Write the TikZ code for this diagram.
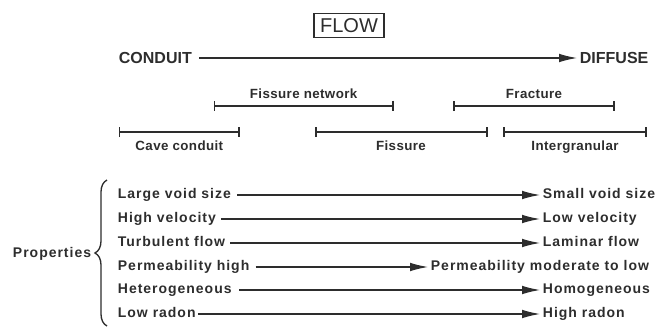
\documentclass[tikz,border=0pt]{standalone}
\usepackage{fontspec}
\setmainfont{Liberation Sans}
\usetikzlibrary{arrows.meta,decorations.pathreplacing}
\definecolor{ink}{RGB}{45,45,45}
\begin{document}
\begin{tikzpicture}[x=0.75pt,y=-0.75pt,line width=1.4pt,draw=ink,
  every node/.style={inner sep=0pt,text=ink},
  prop/.style={font=\fontsize{10.5}{12}\selectfont\bfseries\addfontfeature{LetterSpace=7}},
  lab/.style={font=\fontsize{10}{12}\selectfont\bfseries\addfontfeature{LetterSpace=3}},
  big/.style={font=\fontsize{12}{14}\selectfont\bfseries},
  arr/.style={draw=ink,-{Latex[length=14pt,width=6.5pt]}},
  barline/.style={draw=ink,{Bar[width=7.5pt]}-{Bar[width=7.5pt]}},
  flowbox/.style={draw=ink,line width=1.3pt,minimum width=52.5pt,minimum height=18pt,font=\fontsize{15}{18}\selectfont}]
\useasboundingbox (0,0) rectangle (658,326);
% title
\node[flowbox] (flow) at (349,25.4) {FLOW};
\node[big,anchor=west] (cond) at (118,58) {CONDUIT};
\node[big,anchor=west] (diff) at (579,58) {DIFFUSE};
\draw[arr] ([xshift=5pt]cond.east) -- ([xshift=-1pt]diff.west);
% ranges
\coordinate (fn1) at (213.6,105.7); \coordinate (fn2) at (393.6,105.7);
\draw[barline] (fn1) -- (fn2);
\node[lab,anchor=base] (fnl) at (303.6,98.4) {Fissure network};
\coordinate (fr1) at (453,106); \coordinate (fr2) at (615,106);
\draw[barline] (fr1) -- (fr2);
\node[lab,anchor=base] (frl) at (534,98.4) {Fracture};
\coordinate (cc1) at (118.6,132); \coordinate (cc2) at (240,132);
\draw[barline] (cc1) -- (cc2);
\node[lab,anchor=base] (ccl) at (179.3,150) {Cave conduit};
\coordinate (fi1) at (315,132); \coordinate (fi2) at (487.5,132);
\draw[barline] (fi1) -- (fi2);
\node[lab,anchor=base] (fil) at (401,150) {Fissure};
\coordinate (ig1) at (503,132); \coordinate (ig2) at (647,132);
\draw[barline] (ig1) -- (ig2);
\node[lab,anchor=base] (igl) at (575,150) {Intergranular};
% properties
\node[prop,anchor=mid east] (props) at (92,254) {Properties};
\draw[draw=ink,line width=1pt,decorate,decoration={brace,amplitude=9pt}] (107,326) -- (107,180);
\node[prop,anchor=mid west] (l1) at (117,195) {Large void size};
\node[prop,anchor=mid west] (r1) at (542,195) {Small void size};
\draw[arr] ([xshift=4pt]l1.mid east) -- ([xshift=-1pt]r1.mid west);
\node[prop,anchor=mid west] (l2) at (117,219) {High velocity};
\node[prop,anchor=mid west] (r2) at (542,219) {Low velocity};
\draw[arr] ([xshift=3pt]l2.mid east) -- ([xshift=-1pt]r2.mid west);
\node[prop,anchor=mid west] (l3) at (117,243) {Turbulent flow};
\node[prop,anchor=mid west] (r3) at (542,243) {Laminar flow};
\draw[arr] ([xshift=3pt]l3.mid east) -- ([xshift=-1pt]r3.mid west);
\node[prop,anchor=mid west] (l4) at (117,267) {Permeability high};
\node[prop,anchor=mid west] (r4) at (430,267) {Permeability moderate to low};
\draw[arr] ([xshift=4pt]l4.mid east) -- ([xshift=-1pt]r4.mid west);
\node[prop,anchor=mid west] (l5) at (117,290) {Heterogeneous};
\node[prop,anchor=mid west] (r5) at (542,290) {Homogeneous};
\draw[arr] ([xshift=5pt]l5.mid east) -- ([xshift=-1pt]r5.mid west);
\node[prop,anchor=mid west] (l6) at (117,314) {Low radon};
\node[prop,anchor=mid west] (r6) at (542,314) {High radon};
\draw[arr] ([xshift=1pt]l6.mid east) -- ([xshift=-1pt]r6.mid west);
\end{tikzpicture}
\end{document}
